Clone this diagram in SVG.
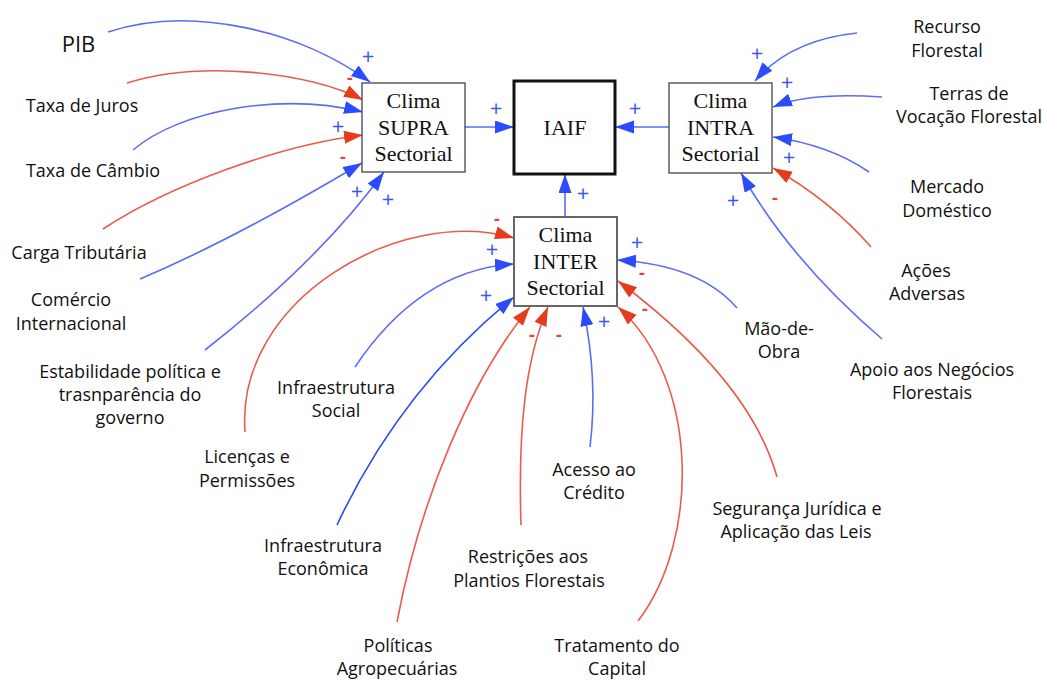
<svg xmlns="http://www.w3.org/2000/svg" width="1042" height="680" viewBox="0 0 1042 680">
<style>
.lbl{font-family:"Open Sans","Liberation Sans",sans-serif;font-size:18px;fill:#111;text-anchor:middle}
.box{fill:#fff;stroke:#444;stroke-width:1.3}
.bt{font-family:"Liberation Serif","Times New Roman",serif;font-size:22px;fill:#111;text-anchor:middle}
.b{fill:none;stroke:#5b6cf6;stroke-width:1.6}
.bd{fill:none;stroke:#2a48f4;stroke-width:1.6}
.r{fill:none;stroke:#ec5a4b;stroke-width:1.6}
.pl{font-family:"Open Sans","Liberation Sans",sans-serif;font-size:22px;fill:#3d55f5;text-anchor:middle}
.mi{font-family:"Open Sans","Liberation Sans",sans-serif;font-size:18px;font-weight:700;fill:#e8432a;text-anchor:middle}
</style>
<defs>
<marker id="ab" markerUnits="userSpaceOnUse" markerWidth="20" markerHeight="14" refX="19" refY="6.5" orient="auto"><path d="M0,0 L19,6.5 L0,13 z" fill="#2b4cfd"/></marker>
<marker id="ar" markerUnits="userSpaceOnUse" markerWidth="20" markerHeight="14" refX="19" refY="6.5" orient="auto"><path d="M0,0 L19,6.5 L0,13 z" fill="#e63b1c"/></marker>
</defs>
<rect width="1042" height="680" fill="#fff"/>

<g id="connectors">
<path class="b" marker-end="url(#ab)" d="M465,127 L514,127"/>
<path class="b" marker-end="url(#ab)" d="M669,127 L615,127"/>
<path class="b" marker-end="url(#ab)" d="M565,217 L565,174"/>
<path class="b" marker-end="url(#ab)" d="M108,32 C190,5 300,30 370,82"/>
<path class="r" marker-end="url(#ar)" d="M127,83 C200,60 310,72 363,100"/>
<path class="b" marker-end="url(#ab)" d="M133,150 C180,110 280,92 363,112"/>
<path class="r" marker-end="url(#ar)" d="M103,229 C170,185 280,145 363,135"/>
<path class="b" marker-end="url(#ab)" d="M140,279 C220,245 300,200 362,163"/>
<path class="b" marker-end="url(#ab)" d="M205,350 Q320,260 384,172"/>
<path class="b" marker-end="url(#ab)" d="M857,33 Q790,40 755,81"/>
<path class="b" marker-end="url(#ab)" d="M882,97 Q810,92 773,107"/>
<path class="b" marker-end="url(#ab)" d="M869,172 Q830,145 773,137"/>
<path class="r" marker-end="url(#ar)" d="M871,247 Q830,200 773,168"/>
<path class="b" marker-end="url(#ab)" d="M882,339 Q790,260 741,173"/>
<path class="r" marker-end="url(#ar)" d="M245,432 C235,300 400,205 514,238"/>
<path class="b" marker-end="url(#ab)" d="M355,367 Q420,270 514,264"/>
<path class="bd" marker-end="url(#ab)" d="M337,525 Q400,390 514,297"/>
<path class="r" marker-end="url(#ar)" d="M397,622 C420,500 470,380 530,307"/>
<path class="r" marker-end="url(#ar)" d="M521,525 C518,430 525,360 548,307"/>
<path class="b" marker-end="url(#ab)" d="M590,447 C597,390 590,340 583,307"/>
<path class="r" marker-end="url(#ar)" d="M638,621 C700,540 700,380 618,307"/>
<path class="r" marker-end="url(#ar)" d="M777,477 Q750,380 618,281"/>
<path class="b" marker-end="url(#ab)" d="M737,308 Q700,265 617,260"/>
</g>

<g id="signs">
<text class="pl" x="368" y="64">+</text>
<text class="mi" x="350" y="84">-</text>
<text class="pl" x="338" y="134">+</text>
<text class="mi" x="343" y="163">-</text>
<text class="pl" x="357" y="199">+</text>
<text class="pl" x="388" y="207">+</text>
<text class="pl" x="496" y="116">+</text>
<text class="pl" x="635" y="116">+</text>
<text class="pl" x="583" y="201">+</text>
<text class="pl" x="757" y="61">+</text>
<text class="pl" x="787" y="90">+</text>
<text class="pl" x="789" y="165">+</text>
<text class="mi" x="775" y="204">-</text>
<text class="pl" x="733" y="208">+</text>
<text class="mi" x="497" y="225">-</text>
<text class="pl" x="492" y="257">+</text>
<text class="pl" x="486" y="303">+</text>
<text class="mi" x="532" y="341">-</text>
<text class="mi" x="559" y="341">-</text>
<text class="pl" x="604" y="329">+</text>
<text class="mi" x="645" y="315">-</text>
<text class="mi" x="642" y="279">-</text>
<text class="pl" x="637" y="250">+</text>
</g>

<g id="supra"><rect class="box" x="362" y="83" width="103" height="89"/><text class="bt" x="413.5" y="108">Clima</text><text class="bt" x="413.5" y="135">SUPRA</text><text class="bt" x="413.5" y="161">Sectorial</text></g>
<g id="iaif"><rect x="514" y="81" width="101" height="93" fill="#fff" stroke="#111" stroke-width="3"/><text class="bt" x="565" y="135">IAIF</text></g>
<g id="intra"><rect class="box" x="669" y="83" width="103" height="90"/><text class="bt" x="720.5" y="108">Clima</text><text class="bt" x="720.5" y="135">INTRA</text><text class="bt" x="720.5" y="161">Sectorial</text></g>
<g id="inter"><rect x="514" y="217" width="103" height="89" fill="#fff" stroke="#666" stroke-width="2"/><text class="bt" x="565.5" y="242">Clima</text><text class="bt" x="565.5" y="269">INTER</text><text class="bt" x="565.5" y="295">Sectorial</text></g>

<g id="pib"><text class="lbl" x="78.5" y="52" style="font-size:22px">PIB</text></g>
<g id="taxa-juros"><text class="lbl" x="82" y="112">Taxa de Juros</text></g>
<g id="taxa-cambio"><text class="lbl" x="93" y="177">Taxa de Câmbio</text></g>
<g id="carga"><text class="lbl" x="79" y="259">Carga Tributária</text></g>
<g id="comercio"><text class="lbl" x="71" y="306">Comércio</text><text class="lbl" x="71" y="330">Internacional</text></g>
<g id="estabilidade"><text class="lbl" x="130" y="378">Estabilidade política e</text><text class="lbl" x="130" y="401">trasnparência do</text><text class="lbl" x="130" y="424">governo</text></g>
<g id="recurso"><text class="lbl" x="947" y="33">Recurso</text><text class="lbl" x="947" y="57">Florestal</text></g>
<g id="terras"><text class="lbl" x="969" y="100">Terras de</text><text class="lbl" x="969" y="123">Vocação Florestal</text></g>
<g id="mercado"><text class="lbl" x="947" y="193">Mercado</text><text class="lbl" x="947" y="217">Doméstico</text></g>
<g id="acoes"><text class="lbl" x="926" y="277">Ações</text><text class="lbl" x="927" y="300">Adversas</text></g>
<g id="apoio"><text class="lbl" x="932" y="376">Apoio aos Negócios</text><text class="lbl" x="932" y="399">Florestais</text></g>
<g id="mao"><text class="lbl" x="779" y="335">Mão-de-</text><text class="lbl" x="779" y="358">Obra</text></g>
<g id="licencas"><text class="lbl" x="247" y="463">Licenças e</text><text class="lbl" x="247" y="487">Permissões</text></g>
<g id="infra-social"><text class="lbl" x="336" y="394">Infraestrutura</text><text class="lbl" x="336" y="417">Social</text></g>
<g id="infra-eco"><text class="lbl" x="323" y="552">Infraestrutura</text><text class="lbl" x="323" y="575">Econômica</text></g>
<g id="politicas"><text class="lbl" x="398" y="652">Políticas</text><text class="lbl" x="397" y="675">Agropecuárias</text></g>
<g id="restricoes"><text class="lbl" x="528" y="563">Restrições aos</text><text class="lbl" x="529" y="587">Plantios Florestais</text></g>
<g id="acesso"><text class="lbl" x="594" y="476">Acesso ao</text><text class="lbl" x="594" y="499">Crédito</text></g>
<g id="tratamento"><text class="lbl" x="617" y="652">Tratamento do</text><text class="lbl" x="617" y="675">Capital</text></g>
<g id="seguranca"><text class="lbl" x="797" y="515">Segurança Jurídica e</text><text class="lbl" x="796" y="538">Aplicação das Leis</text></g>
</svg>
